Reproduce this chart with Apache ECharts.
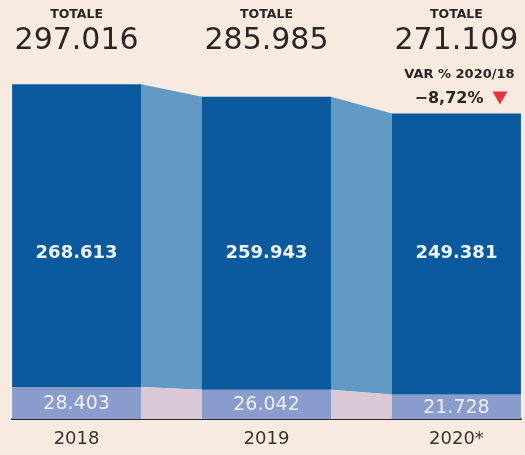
<!DOCTYPE html>
<html>
<head>
<meta charset="utf-8">
<script src="https://cdn.jsdelivr.net/npm/echarts@6/dist/echarts.min.js"></script>
<style>
  html, body { margin: 0; padding: 0; background: #f7eadf; }
  #chart { width: 525px; height: 455px; }
</style>
</head>
<body>
<div id="chart"></div>
<script>
// Anni e valori: quota principale (in alto) e quota restante (in basso)
const years = ['2018', '2019', '2020*'];
const mainValues = [268613, 259943, 249381];
const otherValues = [28403, 26042, 21728];
const totals = [297016, 285985, 271109];
const varLabel = 'VAR % 2020/18';
const varValue = '\u22128,72%';

const FONT = '"DejaVu Sans", sans-serif';
const BAR_W = 129;
const MAIN_LABEL_LEVEL = 147000; // quota fissa per le etichette della parte alta

const C_MAIN = '#0b5a9e';
const C_OTHER = '#8a9ccb';
const C_LINK_MAIN = '#6198c4';
const C_LINK_OTHER = '#d9c9d7';
const C_TEXT = '#2b2526';

function fmt(n) {
  return String(n).replace(/\B(?=(\d{3})+(?!\d))/g, '.');
}

const positions = years.map((_, i) => i);

const chart = echarts.init(document.getElementById('chart'), null, { renderer: 'canvas' });

chart.setOption({
  backgroundColor: '#f7eadf',
  animation: false,
  grid: { left: 12, right: 4, top: 81, bottom: 36 },
  xAxis: [
    {
      type: 'value', min: -0.34, max: 2.34, position: 'bottom',
      splitLine: { show: false },
      axisTick: { show: false },
      axisLine: { show: true, onZero: false, lineStyle: { color: '#2b2630', width: 2 } },
      axisLabel: {
        customValues: positions,
        formatter: v => years[Math.round(v)],
        margin: 11, fontSize: 18, color: '#3a3334', fontFamily: FONT
      }
    },
    {
      type: 'value', min: -0.34, max: 2.34, position: 'top',
      splitLine: { show: false },
      axisTick: { show: false },
      axisLine: { show: false },
      axisLabel: {
        customValues: positions,
        formatter: v => '{a|TOTALE}\n{b|' + fmt(totals[Math.round(v)]) + '}',
        margin: 23,
        rich: {
          a: { fontSize: 12.5, fontWeight: 'bold', color: C_TEXT, fontFamily: FONT, lineHeight: 18, align: 'center' },
          b: { fontSize: 30, color: C_TEXT, fontFamily: FONT, lineHeight: 34, align: 'center' }
        }
      }
    }
  ],
  yAxis: { type: 'value', min: 0, max: 300000, show: false },
  series: [
    {
      // raccordi tra una colonna e la successiva
      type: 'custom',
      z: 1,
      data: positions.slice(0, -1).map(i => [i]),
      renderItem: function (params, api) {
        const i = params.dataIndex;
        const xr = api.coord([i, 0])[0] + BAR_W / 2;
        const xl = api.coord([i + 1, 0])[0] - BAR_W / 2;
        const y0 = api.coord([0, 0])[1];
        const yo1 = api.coord([0, otherValues[i]])[1];
        const yo2 = api.coord([0, otherValues[i + 1]])[1];
        const yt1 = api.coord([0, otherValues[i] + mainValues[i]])[1];
        const yt2 = api.coord([0, otherValues[i + 1] + mainValues[i + 1]])[1];
        return {
          type: 'group',
          children: [
            {
              type: 'polygon',
              shape: { points: [[xr, yt1], [xl, yt2], [xl, yo2], [xr, yo1]] },
              style: { fill: C_LINK_MAIN }
            },
            {
              type: 'polygon',
              shape: { points: [[xr, yo1], [xl, yo2], [xl, y0], [xr, y0]] },
              style: { fill: C_LINK_OTHER }
            }
          ]
        };
      }
    },
    {
      // colonne impilate: quota restante in basso, quota principale sopra
      type: 'custom',
      z: 2,
      data: positions.map(i => [i, otherValues[i], mainValues[i]]),
      renderItem: function (params, api) {
        const i = params.dataIndex;
        const x = api.value(0);
        const other = api.value(1);
        const main = api.value(2);
        const cx = api.coord([x, 0])[0];
        const y0 = api.coord([x, 0])[1];
        const yo = api.coord([x, other])[1];
        const yt = api.coord([x, other + main])[1];
        const yl = api.coord([x, MAIN_LABEL_LEVEL])[1];
        const children = [
          {
            type: 'rect',
            shape: { x: cx - BAR_W / 2, y: yo, width: BAR_W, height: y0 - yo },
            style: { fill: C_OTHER }
          },
          {
            type: 'rect',
            shape: { x: cx - BAR_W / 2, y: yt, width: BAR_W, height: yo - yt },
            style: { fill: C_MAIN }
          },
          {
            type: 'text',
            x: cx, y: (yo + y0) / 2 + 1,
            style: {
              text: fmt(other), fill: '#eef0f8', fontSize: 19, fontFamily: FONT,
              align: 'center', verticalAlign: 'middle'
            }
          },
          {
            type: 'text',
            x: cx, y: yl,
            style: {
              text: fmt(main), fill: '#eef3fa', fontSize: 18, fontWeight: 'bold', fontFamily: FONT,
              align: 'center', verticalAlign: 'middle'
            }
          }
        ];
        if (i === years.length - 1) {
          // variazione percentuale sull'ultima colonna
          children.push(
            {
              type: 'text',
              x: cx + 3, y: yt - 39,
              style: {
                text: varLabel, fill: C_TEXT, fontSize: 13, fontWeight: 'bold', fontFamily: FONT,
                align: 'center', verticalAlign: 'middle'
              }
            },
            {
              type: 'text',
              x: cx + 27, y: yt - 15,
              style: {
                text: varValue, fill: C_TEXT, fontSize: 16, fontWeight: 'bold', fontFamily: FONT,
                align: 'right', verticalAlign: 'middle'
              }
            },
            {
              type: 'polygon',
              shape: { points: [[cx + 36, yt - 22], [cx + 51, yt - 22], [cx + 43.5, yt - 9]] },
              style: { fill: '#e3343f' }
            }
          );
        }
        return { type: 'group', children: children };
      }
    }
  ]
});
</script>
</body>
</html>
